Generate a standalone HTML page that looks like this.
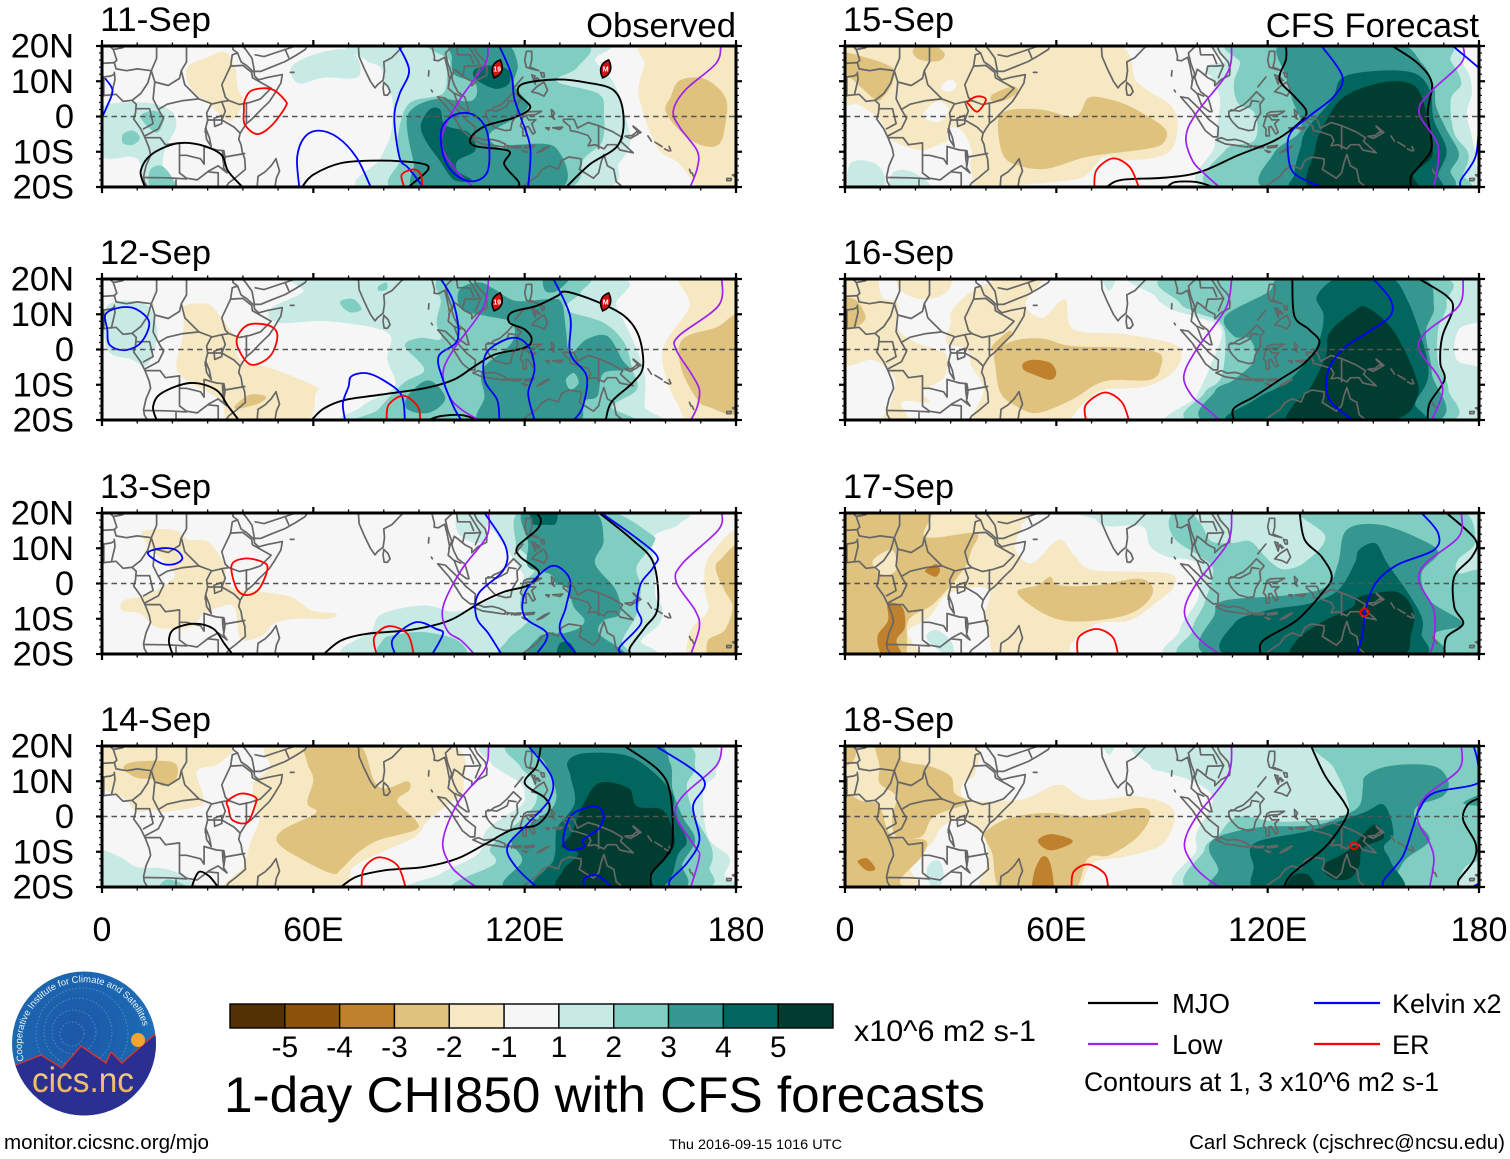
<!DOCTYPE html>
<html lang="en">
<head>
<meta charset="utf-8">
<title>1-day CHI850 with CFS forecasts</title>
<style>
html,body{margin:0;padding:0;background:#fff;width:1510px;height:1159px;overflow:hidden}
svg{display:block;font-family:"Liberation Sans",sans-serif}
</style>
</head>
<body>
<svg id="chart" xmlns="http://www.w3.org/2000/svg" width="1510" height="1159" viewBox="0 0 1510 1159">
  <rect width="1510" height="1159" fill="#fff"/>
  <g id="panels"></g>
  <g id="colorbar"></g>
  <text x="854" y="1041" font-size="30" textLength="182" lengthAdjust="spacingAndGlyphs">x10^6 m2 s-1</text>
  <text x="224" y="1112" font-size="50" textLength="761" lengthAdjust="spacingAndGlyphs">1-day CHI850 with CFS forecasts</text>

  <g>
    <line x1="1088" y1="1003" x2="1158" y2="1003" stroke="#000" stroke-width="2.2"/>
    <text x="1172" y="1013" font-size="27.5">MJO</text>
    <line x1="1314" y1="1003" x2="1380" y2="1003" stroke="#0000ff" stroke-width="2.2"/>
    <text x="1392" y="1013" font-size="27">Kelvin x2</text>
    <line x1="1088" y1="1044" x2="1158" y2="1044" stroke="#a020f0" stroke-width="2.2"/>
    <text x="1172" y="1054" font-size="27.5">Low</text>
    <line x1="1314" y1="1044" x2="1380" y2="1044" stroke="#ff0000" stroke-width="2.2"/>
    <text x="1392" y="1054" font-size="27">ER</text>
    <text x="1084" y="1091" font-size="26.4" textLength="355" lengthAdjust="spacingAndGlyphs">Contours at 1, 3 x10^6 m2 s-1</text>
  </g>

  <text x="4" y="1149" font-size="20.6" textLength="205" lengthAdjust="spacingAndGlyphs">monitor.cicsnc.org/mjo</text>
  <text x="669" y="1149" font-size="14" textLength="173" lengthAdjust="spacingAndGlyphs">Thu 2016-09-15 1016 UTC</text>
  <text x="1505" y="1149" font-size="20.5" text-anchor="end">Carl Schreck (cjschrec@ncsu.edu)</text>

  <g>
    <defs>
      <radialGradient id="logoSky" cx="45%" cy="42%" r="62%">
        <stop offset="0" stop-color="#1c57a6"/><stop offset="0.65" stop-color="#1c66b0"/><stop offset="1" stop-color="#2278bc"/>
      </radialGradient>
      <linearGradient id="logoText" x1="0" y1="0" x2="0" y2="1">
        <stop offset="0" stop-color="#f6dc9a"/><stop offset="1" stop-color="#eda64a"/>
      </linearGradient>
      <clipPath id="logoClip"><circle cx="84" cy="1043.5" r="72"/></clipPath>
      <path id="logoArc" d="M 24 1060.7 A 62 62 0 1 1 145 1034.5"/>
    </defs>
    <circle cx="84" cy="1043.5" r="72" fill="url(#logoSky)"/>
    <g clip-path="url(#logoClip)" fill="none" stroke="#6fa9d8" stroke-dasharray="1.5 2" stroke-opacity=".6">
      <circle cx="72" cy="1034" r="12"/><circle cx="74" cy="1032" r="22"/><circle cx="78" cy="1032" r="34"/><circle cx="82" cy="1034" r="46"/>
    </g>
    <path clip-path="url(#logoClip)" d="M10 1068 L16 1065 L41 1055 L62 1068 L81 1046 L106 1063 L111 1052 L122 1063 L154 1035 L160 1035 L160 1120 L10 1120Z" fill="#2b2f92" stroke="#d8352a" stroke-width="1.4"/>
    <circle cx="138" cy="1040" r="7" fill="#f0a62f"/>
    <text font-size="9.4" fill="#eaf3fb"><textPath href="#logoArc">Cooperative Institute for Climate and Satellites</textPath></text>
    <text x="32" y="1092" font-size="35" fill="url(#logoText)" textLength="102" lengthAdjust="spacingAndGlyphs">cics.nc</text>
  </g>
</svg>

<script>
// ---- Axis values ----
const xTickValues = [0, 60, 120, 180];
const xTickLabels = ['0', '60E', '120E', '180'];
const xMinorTicks = [10,20,30,40,50,70,80,90,100,110,130,140,150,160,170];
const yTickValues = [20, 10, 0, -10, -20];
const yTickLabels = ['20N', '10N', '0', '10S', '20S'];
const yMinorTicks = [18,16,14,12,8,6,4,2,-2,-4,-6,-8,-12,-14,-16,-18];
const cbarLabels = ['-5','-4','-3','-2','-1','1','2','3','4','5'];
const cbarLevels = [-5,-4,-3,-2,-1,0,1,2,3,4,5];
const levelColors = {'-5':'#543005','-4':'#8c510a','-3':'#bf812d','-2':'#dfc27d','-1':'#f6e8c3','0':'#f6f6f6','1':'#c7eae5','2':'#80cdc1','3':'#35978f','4':'#01665e','5':'#003c30'};

// ---- Geography: lon,lat pairs ----
const coastlines = [
 [37.2,21,37.2,19,38.5,18,39.5,15.5,41,14.5,43.2,12.5,43.3,11.5,44.5,10.4,47,11.1,51.2,11.9,50.8,9.5,49,6.5,47.5,4.2,45,1.8,42.5,-.8,41,-2,40,-3.5,39.2,-4.8,38.8,-6.5,39.5,-8,39.8,-10,40.5,-12,40.7,-15,38,-17.3,36,-18.8,34.8,-20.5],
 [-1,5.6,1,6,4,6.3,6,4.3,8.5,4.6,9.7,3.5,9.5,1,9,-.7,11,-3.5,12.2,-6,13.4,-9,13.8,-11,12.5,-14,11.8,-17,12,-18.5,13.2,-20.5],
 [39,21,40.8,19,42.6,16.5,43.3,12.8,45,12.8,48,14,52,15.6,55,17.3,57.7,19,58.6,20.6],
 [49.4,-12,50.4,-15.5,49.5,-17.5,49,-20.5],[44,-20.5,44.3,-17,46.3,-15.7,48,-14,49.4,-12],
 [72.8,21,72.8,20,73,17,74.5,13.5,76.2,10,77.5,8.1,78.2,9,79.8,10.3,80.2,13,80,15.5,82.3,16.7,85,19.5,86.5,20.5],
 [80,9.7,81.2,8.5,81.8,7,81,6,80.1,6.1,79.8,8,80,9.7],
 [93.5,20.5,94.4,17,94.3,16,95.5,15.8,97.3,16.8,98,14,98.7,10.5,98.3,8,100,6.5,101.3,3,103.5,1.4,104.2,1.4,103.5,4,103,5.5,101,7,99.9,9.2,99.3,11,100,13.4,101,12.7,103,11,105,10,105,8.7,106.7,10.4,109.2,11.7,109.3,13.5,108.8,15.5,106.5,18,105.8,19.5,106.5,20.5],
 [95.3,5.6,97.5,5.2,100.3,2.5,103.5,-1,106,-3,105.8,-5.8,104.5,-5.8,102.3,-4,100.4,-1,98.7,1.7,95.3,5.6],
 [105.3,-6.6,106.8,-6,108.5,-6.7,110.8,-6.5,112.7,-7,114.5,-7.8,114.4,-8.7,111,-8.2,108,-7.8,105.3,-6.6],
 [115,-8.2,115.7,-8.4,115,-8.8,115,-8.2],[116.1,-8.4,116.7,-8.4,116.3,-8.9,116.1,-8.4],[117,-8.5,119,-8.3,118.8,-8.8,117,-8.9,117,-8.5],[119.8,-8.5,122.8,-8.2,122.5,-8.7,120,-8.9,119.8,-8.5],[119.3,-9.6,120.8,-10,120.2,-10.2,119.3,-9.6],[123.5,-10.3,125.5,-9,127,-8.4,125,-9.8,123.5,-10.3],
 [109,1.5,110.3,1.7,111.3,2.5,113,3.2,115,5,116.8,7,117.7,6.2,119,5,117.8,3.5,118,1,116.5,-1.5,116,-3.8,114.5,-4,111.7,-3.2,110,-1.5,109,0,109,1.5],
 [119.8,.8,120.8,1.3,124.8,1.5,123,.5,120.3,.3,121.2,-1,123.2,-.9,122,-2,123,-4.5,122.3,-5,121,-2.8,120.3,-3,120.5,-5.5,119.5,-5.5,119.5,-3.5,118.8,-2.7,119.8,.8],
 [120.5,18.5,122,18.5,122,16,121.5,14,124,13,122,13.5,120.5,14,120,16,120.5,18.5],
 [122,7,123.5,8.5,125.5,9.8,126.5,7.5,125.5,5.8,124,6.5,122,7],
 [124.5,12.5,125.5,12.3,125.6,11.2,125,11.2,124.5,12.5],[122,11.8,123,11.5,122.5,10.5,122,11.8],[122.5,10.5,123.3,10.8,123,9.2,122.5,10.5],[123.5,11,124,10,124.4,10.2,123.5,11],[117.2,8.4,119.5,11.2],
 [127.6,2,128.5,1,128,0,128.5,-.8,127.8,-.2,127.6,2],[126,-3.2,127,-3.2,126.8,-3.8,126,-3.2],[128,-3.2,130.8,-3,130,-3.7,128,-3.2],
 [131,-.8,134,-.8,135,-3.3,138,-1.7,141,-2.6,145,-4.3,147.8,-6,147.2,-7,150.8,-10.3,147,-9.5,146,-8,143.5,-8,142.5,-9.2,140,-8,138,-8.3,138.8,-6.8,138,-5.4,135,-4.4,133,-4,132.8,-2.8,131,-1.3,131,-.8],
 [141,-2.6,141,-9.1],
 [148.5,-5.6,150.5,-5.4,152,-4.2,152.2,-5,150,-6.2,148.5,-5.6],[150.8,-2.7,153,-4.5,152.7,-4.7,150.8,-2.9],
 [155,-5.5,156,-7],[157,-7.3,159,-8.5],[159.7,-9.2,161,-9.8],[161,-8.5,161.5,-9.7],[166.8,-15,167.2,-16],[167.5,-16,168,-17],
 [177.4,-17.6,178.7,-17.6,178.5,-18.2,177.4,-18.2,177.4,-17.6],[179,-16.6,180,-16.4,179.5,-16.9,179,-16.6],
 [118.5,-20.5,122,-18,123.5,-17,125,-15,127,-14,129.5,-14.9,130.5,-12.5,132.5,-11.5,136,-12,136,-13.5,135.5,-15,139.5,-17.5,141,-16,141.7,-13,142.5,-10.8,143.5,-14,145.3,-15,146,-18.5,148.5,-20.5],
 [53.5,12.5,54.5,12.5],[92.8,13,92.7,11.5],[93.5,7.5,93.8,7],
 [-1,15,3.5,15.3,4,13.5,7,13,10,13.5,14,13,15.5,16.5,15.5,21],[1.2,21,3.2,19,4.2,16,3.5,15.3],[3.2,19,5.8,19.5,8,21],
 [24,21,24,15.5,22.5,13,23.5,9,27.5,5,31,3.7],[14,13,15,9.8,18.8,8.8,22,10.8,22.5,13],[14,13,13,9.5,11,6.5,8.7,4.7],[2.7,6.3,3.7,10.5,3.5,12.5],[-1,11,2.5,11.5,3.5,12],[.5,6,.5,11],
 [15,9.8,14.5,5,16,2,18.5,3.5,23,4.5,27.5,5],[9.8,2.2,13.5,2.2,14.5,-2,11.8,-3.5],[16,2,17.5,-.5,16,-3.5,12.2,-5.5],
 [12.2,-6,16.5,-6,18,-8,22,-7.5,22,-11,24,-11,28,-12,29,-13.5,29,-8.5],[22,-11,22,-16,24,-17.5,27,-18,30,-15.7,33,-16,33,-20.5],[11.8,-17.3,18.5,-17.4,24,-17.7],[21,-18,21,-21],
 [29,-8.5,32.5,-9.5,34.6,-9.7,34.9,-11.5,40.5,-10.5],[34.9,-11.5,34.5,-14.5,35.5,-16,33,-14,30.2,-15.5],[30,-1,34,-1,37.5,-3,39.2,-4.7],[30,-1,29.5,-3,29.3,-4.5],[30,-1,29.7,1,31,3.5,34,4.2],[34,-1,35,1.5,34,4.2,36,4.5],
 [36.5,14.3,40,14.5,42.5,12.5,42.7,11,48,8,45,5,42,4,39,3.4,36,4.5,35,5.5,34,9,36.5,14.3],[36.5,14.3,37,17.5,38.5,18],[41,-1.6,41,3.9],[43.5,17.5,46,17,52,19,55,20],[52,19,53,16.7],
 [31.8,-.5,34,.3,34,-2,32,-2.8,31.8,-.5],[29.3,-3.5,29.7,-6.5,31,-8.5,30.5,-6,29.5,-3.5],[34.2,-9.7,34.9,-12,34.6,-14,34.3,-12,34.2,-9.7],
 [98.5,10,99.3,12,98.2,15,97.5,18,100,20.4],[100.5,21,101,17.5,104.5,17.5,105.5,15],[102.5,12,103,14.3,105.5,14.3,107.5,14.5,106,11],[107.5,14.5,105,18.5,104,20],[100.2,6.5,101.8,5.8],[109.6,1.9,112,1.5,115,3,115.5,4.5,117.5,4.2]
];

// ---- 11-Sep ----
const shade11 = [
 [-1,[154,21,182,21,182,-22,171.5,-22,164,-13.5,157.5,-8.6,152.7,4.5,152.7,10,154,15]],
 [-2,[164,10.2,171,10.7,177,5.4,177,-2.2,175,-8,169.7,-8,164,-4,160,1.6,161.4,5.4]],
 [-1,[24.3,14,30.4,17,35,18.3,37.8,14,38.5,8.3,40,4.5,38.5,.7,35.8,-1.2,30.4,3.5,25,8.3]],
 [1,[-1,2,11.5,4,19.6,1.6,21,-3,18,-9,17.5,-15,22,-21,13,-21,10,-12,2,-12,-1,-10]],
 [1,[54.7,15,61.5,18,69.6,19,73,15.5,72.3,11,63,11,56,9.4,53.6,12.5]],
 [1,[73.6,21,75,16,79,14,80.5,9,82.5,4.5,82,-5,79,-12,75.7,-21,139,-21,147,-13,150,-7,148,2,145,10,140,16,140,21]],
 [2,[6,-5,8.8,-4,10.8,-6,8.8,-8,6,-7.6]],
 [2,[11.5,.7,14.9,1.6,17.6,-.3,15.5,-4.6,11.5,-1.2]],
 [2,[13.5,-15.5,16.9,-14,20.3,-17.9,21,-21,14.2,-21]],
 [2,[94,21,135.8,21,135,14,129,10,141,6.4,142.5,.7,142,-7,137,-11.8,130,-21,84.5,-21,84.5,-12.5,83.8,-7,87,3.5,96.6,6.4,98,12,98.6,16]],
 [3,[99.3,21,114,21,118,15,117,9,121,3.5,118,0,110,-5,113,-9,118,-8,129,-9,129,-21,91,-21,88.5,-13,86.5,-2,88.5,2.5,95.3,5,105,4.5,106,9.3,100,12,99.3,17]],
 [4,[106,13.5,111.5,14.5,115.5,13,115.5,9.3,111.5,7.9,106,10.7]],
 [4,[93,2,96,2,97.5,-2.5,104,-4.5,106,-9.5,101,-12.5,101,-15.5,105,-18,100,-18,95.5,-12,92,-7,90.5,-2.5]]
];
const mjo11 = [
 [12.2,-20,11,-15.5,14,-10.8,21,-7.7,27.7,-8,33.8,-10.8,35.8,-15.5,39.9,-20],
 [56.8,-20,60,-16.5,68,-13.2,79,-12.5,90,-13.2,92.6,-15,87,-20],
 [131.8,-20,138.5,-13.6,146.6,-8,148,.7,145.3,7.4,137.2,9.7,129,10.5,119.6,9.3,118.2,6.4,121.6,2.6,117,-.3,108.8,-2.7,104.7,-6,106,-8.4,115.5,-9.8,114.2,-13.6,118.2,-18.4,118.2,-20]
];
const kelvin11 = [
 [1,10.7,3,7.3,1.3,2.6,.2,.2],
 [56,-20,55.4,-11.7,57.4,-6,61.5,-4,67,-6,72.3,-11.7,76.3,-20],
 [84.2,20,87.2,13,84.5,6.4,83,-.3,84.5,-11.7,87,-14.6,91.2,-20],
 [96.6,-3,100.7,.7,106,.2,109.5,-5,109.5,-15.5,104.7,-18.4,99.3,-15.5,96.6,-9.8,96.6,-3],
 [112.8,20,116.2,12,117,5.4,118.9,-.3,121.6,-8.9,121,-20]
];
const low11 = [
 [109.5,20,108.8,15,102,5.4,97.3,-3,96.6,-8.9,100.7,-15.5,105.4,-20],
 [175.7,20,174.3,15,165.5,7.4,162.2,1.6,164,-3,169,-9.8,169,-14.6,167,-20]
];
const er11 = [
 [40.5,4.5,42.6,7.4,48,7.8,52,4.5,52,2.6,48,-2.7,44,-5,40.5,-2.2,40.3,1.6,40.5,4.5],
 [85.8,-20,85.1,-16.5,88.5,-15,90.5,-16.5,91,-20]
];
const stormLons = [112.2, 143];
const stormLats = [13.5, 13.5];
const stormLabels = ['19', 'M'];

// ---- 12-Sep ----
const shade12 = [
 [-1,[164.3,21,182,21,182,-22,168,-22,163.7,-16,160,-7.6,159.5,1,166,10.5,166.6,14.3]],
 [-2,[182,9,174.3,6.2,164.8,2.9,164.3,-4.8,168.4,-13.3,172,-16.2,182,-16.7]],
 [-1,[23.4,12.4,30,12.9,33.5,9.5,35.9,6.2,38.2,2.9,38.2,-1,40.6,-3.8,47.7,-5.2,60.7,-10.5,60.7,-12.4,57.2,-21,37,-21,33.5,-14.3,21.7,-6.7,22.8,2.9,23.4,9.5]],
 [-2,[37.6,-16.2,41.8,-12.9,46.5,-13.3,44.7,-15.2,39.4,-16.7]],
 [1,[1.5,12.4,12.2,12.9,15.7,5.7,14.5,-1,12.2,-4.8,8.6,-2.9,1.5,0]],
 [1,[47.7,11.4,57,16.2,60.7,21,143,21,146,12.4,150.6,2.9,154,-6.7,154,-16,153,-21,73.7,-21,73.7,-16.2,83,-10.5,81,-2.9,81,4.8,64,8,50,7.6]],
 [2,[67.8,13.8,71.4,14.3,73.7,11.4,70.8,10.5,68.4,11.9]],
 [2,[78.5,18,80.8,19,80.8,17,78.5,16.7]],
 [2,[98,21,135.9,21,135.9,16.2,131.7,11.4,142.4,7.6,148.3,1.9,150.6,-5.7,151.8,-11.4,144.7,-16.2,147,-21,76,-21,78.5,-17,85.6,-9.5,91.5,-5.7,86,1,90.3,3.3,96.2,2.9,95,7.6,96.2,13.3]],
 [3,[101.5,17,107,19,111.6,17,117.5,13.8,127,14.3,130.5,13.3,131.7,5.7,132.9,-1,137.6,2.9,143.5,3.8,147.7,-2.9,149.5,-5.7,142.4,-6.7,140.6,-13.3,136.5,-14.8,134,-21,108,-21,108.6,-13.3,108,-5.7,116.3,1.9,116.3,7.6,109.2,9.5,102,11.4]],
 [3,[86.7,-13.3,91.5,-9,95,-10,97.4,-14.3,92.7,-18,86.7,-17]],
 [3,[125.8,21,133,21,129.3,16.7,125.8,16.7]],
 [2,[131.7,-8.6,134,-6.7,135.3,-9.5,133,-11.4]]
];
const mjo12 = [
 [15.5,-20,14.5,-16.2,16.9,-12.4,25,-9.5,32.3,-11.4,35.9,-16.2,38.8,-20],
 [59.5,-20,63,-16.7,69,-14.3,78.5,-12.9,91.5,-11,99.8,-8.6,105.7,-4.8,111.6,-1.4,120,.5,122,2.9,120,5.7,115.7,7.6,116.3,10.5,123.4,12.4,129.3,15.2,131.7,16.4,140,13.8,148.3,9.5,152.4,3.8,153.6,-4.8,150.6,-9.5,144.7,-14.8,143,-20],
 [92.7,-20,96.2,-18.9,102,-18.6,106.9,-20]
];
const kelvin12 = [
 [1,10,5,11.9,9.8,11.4,13.4,7.6,11,1.9,6.3,-.2,2.1,1.4,1.5,5.7,1,10],
 [69,-20,68.4,-15.2,70,-10.5,70.8,-7.6,75,-6.7,79.7,-8.6,85,-12.9,86,-20],
 [96.2,20,99.8,13.3,101,2.9,95.6,-1.9,96.8,-8.6,99.8,-16.2,102,-20],
 [112.8,-20,112.2,-14.3,108.6,-8.6,109.2,-.9,116.3,3.3,121,1,122.8,-5.7,121,-12.4,122.8,-20],
 [128.2,20,132.9,9.5,132.9,-1,137.6,-7.6,136.5,-16.2,134,-20]
];
const low12 = [
 [109.8,20,108,11.4,99.8,0,96.8,-6.7,98.6,-13.3,102,-17,107,-20],
 [176,20,175,12.4,163.7,3.8,163,0,167.2,-6.7,169.6,-11.4,169,-16.2,167.2,-20]
];
const er12 = [
 [38.5,3.8,41.8,7.1,47.7,6.7,49.8,3.8,47.7,-1.9,42.4,-4.3,38.8,0,38.5,3.8],
 [80.8,-20,81.4,-15.7,85.6,-13.1,89.7,-16.2,90.3,-20]
];

// ---- 13-Sep ----
const shade13 = [
 [-1,[11.6,14.8,20.5,15.2,24.6,12.4,30,11.9,34.7,5.7,35.3,0,39.4,-1.9,45.3,-2.4,53.6,-3.8,59.5,-7.6,66.4,-8.6,64.3,-10,54.8,-10,48.9,-11.4,45.3,-14.8,39.4,-15.7,37.6,-6.7,33.5,-6.7,28.8,-8.6,25.2,-12.4,15.7,-12.4,11,-8.6,5.7,-7.6,6.3,-4.8,13.4,-2.9,20.5,1.9,18,5.7,13.4,10.5]],
 [-1,[182,13.8,172.4,7.6,171,-1,172,-7.6,167.2,-13.3,167.2,-22,182,-22]],
 [-2,[182,9.5,175.5,6.7,174.3,3.8,176.7,-1.9,179,-6.7,176.7,-13.3,172,-16.2,173,-22,182,-22]],
 [1,[109.8,21,162.5,21,163.7,16.7,156.6,13.3,157,4.8,157.2,-3.8,159,-6.7,158.3,-11.4,153,-16.2,151.8,-21,72.5,-21,76.7,-13.3,79.6,-8.6,91.5,-6.2,99.8,-8,108,-5.7,119.3,.5,117.5,5.7,115.1,9.5,112.2,13.8]],
 [1,[100.4,17,102,21,108,21,109.2,14.3,106.9,11.4,102,13.3]],
 [2,[119.3,21,117.5,11.4,119,9.5,123.4,4.8,120,0,118.7,-6.7,121,-10.5,115,-16.2,115,-21,147.7,-21,147.7,-16.2,151.8,-8.6,153,-1,151.8,4.8,156.6,11.4,155.4,14.3,142.4,21]],
 [2,[79.6,-16.2,83,-14.6,91.5,-13.8,101,-16.2,102,-21,79.6,-21]],
 [3,[120,21,138.8,21,142.4,12.4,140,5.7,145.9,-1.9,147,-8.6,142.4,-10.5,141.2,-14.3,148.3,-21,122.2,-21,124,-15.2,128.2,-13.3,128.2,-5.7,128.2,1.9,121,4.8,121,11.4]],
 [2,[126.9,-1.9,131.7,-1,134,-6.7,137,-10.5,134,-13.3,127.6,-13.3]],
 [4,[122.2,21,128.8,21,128.8,17,125.8,16.7,122.2,17]],
 [4,[129.4,-21,130,-17,133,-17,134.7,-21]]
];
const mjo13 = [
 [20,-20,19,-16.2,20.5,-12.9,26.4,-11.4,31.7,-12.9,34.7,-17,37,-20],
 [63,-20,67.8,-16.2,75,-14.3,88,-13.1,98.6,-10.5,106.9,-5.7,114,-2.4,121,-.5,124,3.3,118.7,7.6,118,10.5,123.4,15.2,124.6,18,123.4,20],
 [141.2,20,150.6,12.4,156.6,5.7,157.8,-6.7,154.2,-12.4,150,-18,150,-20]
];
const kelvin13 = [
 [13,8.6,16.9,10,21,9.5,22.8,7.1,20.5,5.5,16.9,5.7,13,8.6],
 [83.2,-20,82.6,-15.7,89,-11,94.9,-12.9,96.8,-14.3,93.8,-20],
 [108.6,20,114.6,10.5,114,3.8,106.9,-2.9,106.3,-9.5,109.8,-14.3,113.4,-20],
 [123.4,-20,126.4,-14.3,120,-9.5,120,-2.9,124.6,2.9,128.8,5,132.9,.95,131.7,-6.7,130,-13.3,134.7,-20],
 [141.8,20,156.6,9,156.6,4.8,153,0,151.8,-6.7,153,-11.4,147,-18,147.7,-20]
];
const low13 = [
 [109.8,20,109.2,13.3,102,3.8,96.8,-6.7,98,-13.3,102,-16.2,105.7,-20],
 [176,20,175,15.2,164.8,5.7,163,.5,168.4,-7.6,169.6,-12.4,167.2,-20]
];
const er13 = [
 [36.8,5.2,40.6,7.1,45.3,6.2,47,4.3,44.7,-1.4,41.2,-3.3,38.2,-1.4,36.8,5.2],
 [77.9,-20,77.3,-15.2,81.4,-12.1,86.7,-14.3,88.5,-20]
];

// ---- 14-Sep ----
const shade14 = [
 [-1,[-2,22,36,22,33.5,15.2,27,12.9,28.8,5.7,27.6,2.9,18,1.4,14.6,1.9,9.8,1.4,6.3,5.2,.4,7.6,-2,8.6]],
 [-1,[43,9.5,47.7,13.8,50,21,97.4,21,102.7,8.6,98.6,3.8,92.7,-1,89,-5.7,80.8,-9.5,71.4,-14.3,66.6,-21,35.9,-21,40,-14.3,42.4,-6.7,44.7,-1,43.5,2.9]],
 [-2,[58.3,21,72.5,21,77.3,10,80.8,8,86.7,10,87.3,7.6,83.8,4.3,89,-1,89,-3.8,78.5,-6.7,73.7,-9.5,71.4,-11.4,67.8,-15,65.4,-16.2,57.2,-12.4,50,-7.6,51.3,-3.8,60.7,1,58.3,3.8,60,10.5,58.3,15.2]],
 [-2,[6.9,14.8,11,15.7,20.5,15.2,21,10.5,17.5,8.6,14.6,10.5,9.8,11,6.3,13.3]],
 [1,[-2,-10,5,-11.4,9.8,-14.3,18,-14.8,25.2,-18,25.8,-22,-2,-22]],
 [2,[16.3,-21,18,-18,21.7,-18.6,25.2,-21]],
 [1,[112.2,21,169.6,21,174.3,12.4,170.8,7.6,172,-5.7,178,-11.4,176.7,-16.2,173,-21,91.5,-21,96.2,-16.2,106.9,-10.5,109.2,-3.8,118.7,2.9,120,5.7,118.7,9.5,110.4,15.2]],
 [2,[117.5,21,162.5,21,168.4,14.3,166,8.6,168.4,0,173,-8.6,172.6,-14.3,167.2,-21,102,-21,111.6,-13.3,110.4,-8.6,120,0,123.4,4.8,122.2,10.5,118.7,14.3]],
 [3,[123.4,21,155.4,21,161.3,15.2,162,7.6,164.8,0,168.4,-6.7,164.8,-13.3,162.5,-21,116.3,-21,119.3,-12.4,116.3,-6.7,123.4,-1,128.2,2.9,128.8,7.6,125.8,15.2]],
 [4,[132.3,15.7,137.6,18,150.6,16.7,161.3,7.6,162.5,1,166,-6.7,163.7,-10.5,156.6,-21,123.4,-21,128.2,-12.4,128.8,-5.7,129.4,-2.9,134.2,3.8,133,11.4]],
 [5,[141.2,9.5,149.5,8,151.8,2.9,159,1.9,162,-3.8,162,-9.5,155.4,-17,155.4,-21,130.5,-21,131,-15.2,135.3,-10.5,130.5,-8.6,133.3,-4.8,136.4,2.9]]
];
const mjo14 = [
 [25.8,-20,25.8,-19,27.6,-15.7,30.5,-17,32.9,-20],
 [67.8,-20,72.5,-17,80.8,-15.2,91.5,-14.3,101,-11.9,109.2,-7.6,116.3,-3.8,123.4,-2.4,127,1.9,125.8,5.2,120,9.5,123.4,14.3,124.6,20],
 [148.3,20,157.8,13.3,161.3,6.7,162,-6.7,160.1,-11.4,156,-16.2,156,-20]
];
const kelvin14 = [
 [121,20,127.6,11.4,127,4.8,121,-1.9,115.1,-8.6,117.5,-14.3,123.4,-20],
 [131.7,-2.9,134,1,140,2.9,142.4,.5,141.2,-3.3,136.5,-6.7,137,-8.6,132.9,-9.5,131,-7.6,131.7,-2.9],
 [137,-20,137,-17.6,140.6,-16.7,144.7,-20],
 [157.2,20,170.8,10.5,167.8,2.9,169.6,-6.7,166,-13.3,161.3,-18,161.3,-20]
];
const low14 = [
 [109.8,20,108.6,13.3,101,3.8,96.8,-6.7,98.6,-13.3,102,-17,106.3,-20],
 [176,20,174.3,14.3,164.8,5.7,163,0,168.4,-8.6,169.6,-11.4,167.2,-20]
];
const er14 = [
 [35.6,4.3,39.4,6.5,43.5,5.5,43.5,3.3,41.2,-1.7,37,-1,35.9,2.4,35.6,4.3],
 [73.7,-20,74.3,-14.8,78.5,-11.6,83.8,-13.8,86.2,-20]
];

// ---- 15-Sep ----
const shade15 = [
 [-1,[-2,22,71.4,22,83.2,9.5,92.7,2.9,94.4,-3.8,91.5,-10.5,80.8,-12.4,73.7,-11.4,69,-16.2,64.3,-18,45.3,-20,37.6,-22,36,-16,34,-8,33.5,-6.7,27.6,-7.6,21.7,-9.5,13.4,-6.7,9.8,-1,3.9,3.3,-2,4.8]],
 [0,[22.2,1,26.4,4.3,29.4,1.9,27,-1.4,23.4,-1]],
 [0,[27.6,9,30,10.5,31.7,9,30,7.1,27.6,7.6]],
 [0,[29.4,-3.8,33,-3.8,35.9,-9.5,35,-14.3,32.3,-18,29.4,-10.5]],
 [-2,[43.5,-1,47,1.9,56,1.9,65.4,0,69,5.2,73.7,5.2,80.8,2.9,90.3,-2.9,90.9,-6.7,86.7,-9,69,-11.4,57.2,-14.8,48.9,-13.8,44.7,-10.5]],
 [-2,[41.8,6.2,47.7,8.6,48.9,6.7,44.7,4.3,41.8,4.3]],
 [-2,[19.3,19,23.4,21,28.2,18,26.4,15.7,21,16.2]],
 [-2,[-2,18,5,17,13.4,13.8,13.4,9.5,11,5.7,8.6,4.8,1.5,11,-2,12.4]],
 [1,[1.5,-13.3,7.5,-12.9,11,-16.2,10.4,-21,1.5,-21]],
 [1,[13.4,-16.2,17.5,-15.2,22.8,-18,24,-21,13.4,-21]],
 [1,[109,21,167.2,21,176,14,178,7,176.5,1,178,-6,179,-13,176,-21,104.5,-21,105,-8,106.5,5,104,11,108,16]],
 [1,[103,14.5,107,15,106.5,11.7,103,12]],
 [2,[111.6,21,167.2,21,172,15.7,175,9.5,172,4.8,173,-4.8,177,-10.5,175.5,-16.2,172,-21,106.3,-21,108,-9.5,116.3,-6.7,116.3,1,111.6,3.8,110.4,9.5,112.2,15.2]],
 [3,[124.6,21,155.4,21,163.7,15.2,167.2,8.6,167.8,2.9,170.8,-3.8,174.3,-10.5,172,-15.2,169,-21,121,-21,121.7,-10.5,129.4,-3.8,127,4.8,125.2,11.4]],
 [4,[150.6,12.9,161.3,12.4,166,7.6,167.2,-1,170.8,-9.5,168.4,-16.2,166.6,-21,129.4,-21,127.6,-16.2,129.4,-8.6,131,-3.8,138.2,4.8,141.2,11]],
 [5,[151.8,9.5,160,9.5,163.7,5.7,166,-4.8,166.6,-11.4,161.3,-16.2,160.7,-21,132.9,-21,133.5,-9.5,135.3,-3.8,141.2,5.2]]
];
const mjo15 = [
 [74.3,-20,78.5,-18,91.5,-17.3,101,-15.7,111.6,-11,122.2,-6.7,128.8,-1.9,131,1.4,127.6,5.7,123.4,10.5,125.2,16.2,125.2,20],
 [91.5,-20,93.8,-18.6,99.8,-18.6,104.5,-20],
 [155.4,20,162.5,15.2,166.6,9.5,165.4,1,166.6,-8.6,163.7,-13.3,160.7,-17,160.7,-20]
];
const kelvin15 = [
 [135.3,20,141.2,11.4,138.8,5.7,131.7,0,126.4,-4.8,125.8,-10.5,127.6,-16.2,135.3,-20],
 [172.6,20,180,13.8],
 [180,-2,179,-11.4,174.9,-18,174.9,-20]
];
const low15 = [
 [109.8,20,108.6,12.4,99.8,1,96.8,-5.7,98.6,-12.4,102,-16.2,106.3,-20],
 [175.5,20,175,15.2,166,6.7,163,1,168.4,-8.6,167.2,-20]
];
const er15 = [
 [34.9,4.3,37.6,5.7,40,4.8,37.6,1.4,35.3,3.3,34.9,4.3],
 [70.8,-20,71.4,-15.2,76,-11.9,80.8,-14.3,83.4,-20]
];

// ---- 16-Sep ----
const shade16 = [
 [-1,[32.3,13.3,37,17,48.9,22,57.8,22,51.3,13.3,56,9,62.5,14.3,64.9,5.7,79.6,4.3,94.4,1,93.8,-5.7,85.6,-10.5,73.7,-11.4,67.8,-15.2,59.5,-22,37,-22,39.4,-11.4,35.9,-4.8,34.7,0,28.8,1.9,30,7.6,30,10.5]],
 [-1,[-2,22,8,22,10.5,15,15,13,15,6,20,2,26,0,29,-2,28,-8,22,-12,24,-15,16,-15,19,-22,10,-22,13,-15,14,-8,8,-3,-2,-3]],
 [-1,[15.7,22,29.3,22,28.8,16.2,21.7,14.3,15.7,17]],
 [-2,[42.7,-1,47.7,2.4,56,3.1,64.3,1,79.6,.5,89,-1,89.7,-4.8,86.7,-8.6,73.7,-9,64.3,-14.3,54.8,-18,48.9,-16.2,44.2,-12.4,42.7,-4.8]],
 [-2,[41.8,1,46.5,5.2,47,3.8,43.5,-.5]],
 [-3,[50.7,-3.8,53.6,-2.9,58.3,-3.8,60,-6.7,58.3,-8.6,53.6,-7.1,50.7,-5.7]],
 [-2,[-2,13.8,2.7,14.3,5.7,10,5,7.6,1.5,6.2,-2,6.7]],
 [1,[72.5,22,77.3,22,75,16.7]],
 [1,[86.8,22,182,22,182,9.5,174.3,5.7,173.7,-2.9,182,-6.7,182,-22,96.2,-22,99.8,-13.3,103.3,-5.7,106.9,5.7,98.6,9.5,92.7,11.4,88,15.2]],
 [2,[93.8,21,165.5,21,170.8,13.3,168.4,5.7,168.4,-3.8,171.3,-11.4,168.4,-21,100.9,-21,102,-12.4,106.9,-7.6,107.5,6.2,99.8,10.5,95,13.3]],
 [3,[120,16.2,126.4,21,161.9,21,167.2,12.4,164.9,4.8,166.6,-6.7,166,-21,105,-21,105,-11.9,110.4,-8.6,116.3,-2.9,115,2.9,110.4,3.8,108,9.5]],
 [4,[134,15.2,141.2,21,154.2,21,160,13.3,164.9,-1,165.4,-8.6,161.9,-15.2,161.3,-21,110.4,-21,116.3,-14.3,123.4,-10.5,128.2,-6.7,134,1,135.9,9.5]],
 [5,[144.7,11,148.3,11.9,155.4,5.7,161.3,-5.7,162.5,-13.3,155.4,-20,127.6,-21,127,-16.2,131.7,-11.4,136.5,-1.9,137.6,4.8]]
];
const mjo16 = [
 [110.4,-20,110.4,-16.7,116.3,-13.3,123.4,-8.6,130.5,-3.8,134.7,1.9,131.7,5.7,127.6,9.5,127,20],
 [163,20,170.8,15.2,172.6,11.4,169.6,3.8,169,-3.8,170.2,-8.6,166,-15.2,165.4,-20]
];
const kelvin16 = [
 [150,20,154.8,14.3,154.8,9.5,148.3,4.8,141.2,0,137,-6.7,137.6,-14.3,144.2,-20]
];
const low16 = [
 [109.8,20,108,11.4,99.8,0,96.2,-7.6,98.6,-13.3,102,-16.2,106.3,-20],
 [175.5,20,174.3,12.4,164.8,4.8,163,0,168.4,-7.6,169.6,-12.4,166.6,-20]
];
const er16 = [
 [68.4,-20,68.4,-15.7,73.7,-12.2,78.5,-14.8,80.6,-20]
];

// ---- 17-Sep ----
const shade17 = [
 [-1,[-2,22,49.5,22,50,16.2,48.3,10,53,5.7,60.7,12.4,65.4,7.6,70.8,3.8,91.5,2.9,93.3,-1,88,-5.7,80.8,-10.5,71.4,-11.4,64.3,-17,62,-22,44.1,-22,40.6,-13.3,39.4,-9.5,41.2,-2.9,37.6,-1,28.8,-3.3,24,-9.5,18,-13.3,19.3,-17,21.7,-22,-2,-22]],
 [-2,[-2,22,23.4,22,22.8,13.3,37,14.3,35.9,9.5,33.5,3.8,25.2,-5.7,18,-10.5,16.3,-21,1.5,-21,-2,-13,-2,5.7]],
 [-1,[8,6.7,13.4,9.5,14.6,4.3,12.2,2.4,9.2,3.3]],
 [-3,[12.2,-5.7,16.3,-6.7,17,-12.4,14.6,-16.2,16.3,-21,11,-21,9.2,-15.2,12.2,-10.5]],
 [-3,[22.8,3.8,25.8,5.5,27,3.8,25.8,1.9,23.4,2.9]],
 [-2,[48.9,-2.4,54.8,-.5,58.3,1.9,60.7,-.5,71.4,-.5,83.2,1.4,87.3,-1,86.2,-4.8,80.8,-8.6,71.4,-10.5,62,-10.5,54.8,-7.6]],
 [1,[23.4,-14.3,26.4,-13.3,30.5,-17,30,-21,24,-16.7]],
 [1,[72,22,182,22,182,-22,97.4,-22,95,-13.3,100.4,-3.8,99.8,5.7,91.5,7.6,86.7,10.5,84.4,16.2,75,16.2,71.4,18]],
 [2,[129.4,22,171.4,22,179,12.4,174,6.7,174.3,2.9,182,2,182,-22,101,-22,98.6,-13.3,102,-5.7,104.5,3.8,101,7.6,93.8,12.4,92,18,96,22,101,17,104,12,110,11.5,115,12,119,8,121,6,124.6,4,130.5,6,136.4,13.3]],
 [3,[142.4,15.2,151.8,16.7,163.7,12.4,168.4,8.6,163.7,2.9,166,-4.8,175.5,-11.4,167.2,-14.3,166,-21,105,-21,105,-8.6,108,-4.8,125.8,-3.3,136.5,-1,140,5.7]],
 [4,[145.9,9.5,150.6,11.4,154,5.7,160,-2.9,163.7,-9.5,163.7,-14.3,161.3,-21,110.4,-21,110.4,-11.4,120,-7.6,131.7,-5.7,140,-1.9,144.7,5.7]],
 [5,[146,-3.8,156.6,-2.4,161.3,-7.6,160.7,-14.3,156.6,-21,128.8,-21,128.2,-16.2,135.3,-11,144,-6.7]]
];
const mjo17 = [
 [118,-20,118.7,-16.2,128.2,-10.5,135.3,-2.9,138.2,1.9,135.3,7.6,130.5,12.4,129.1,20],
 [170.8,20,179,12.4,178,7.6,173,1.9,173,-6.7,175.5,-11.4,170.8,-15.2,170.2,-20]
];
const kelvin17 = [
 [163.7,20,168.4,14.3,167.2,9.5,156.6,5.2,150.6,0,147.7,-7.6,147,-14.3,145.3,-20]
];
const low17 = [
 [109.8,20,108.6,11.4,99.8,0,96.4,-7.6,98.6,-13.3,102,-17,106.3,-20],
 [175,20,174.3,13.3,164.8,5.7,163,.5,167.2,-7.6,167.2,-16.2,166,-20]
];
const er17 = [
 [66,-20,66.4,-15.2,71.4,-12.9,76,-15.2,77.5,-20],
 [146.2,-8.2,147.5,-7.1,148.8,-8.2,147.5,-9.3,146.2,-8.2]
];

// ---- 18-Sep ----
const shade18 = [
 [-1,[-2,22,34.7,22,37,12.4,33.5,9.5,34.7,4.8,50,4.8,60.7,9,69,4.8,83.2,5.7,93.3,1.9,90.3,-7.6,79.6,-11.4,70.2,-13.3,63.7,-22,39.4,-22,40.6,-12.4,39.4,-5.7,33.5,-1,27.6,-2.9,24.6,-7.6,18,-13.3,21,-22,-2,-22]],
 [-2,[-2,4.8,5,4.3,9.8,2.9,13.4,-5.7,22.8,-6.7,21.7,-11.4,15.7,-18,17,-22,-2,-22]],
 [-2,[8.6,22,15.7,22,16,16,24,14.3,30,11.4,31.1,6.7,34.7,3.8,25.2,0,21.7,-5.7,14.6,-5.7,13.4,0,14.6,5.7,9.8,9.5,9.8,14.3]],
 [-2,[-2,22,3,22,2.5,16,-2,14]],
 [-3,[3.9,-12.4,6.3,-11.9,8.6,-14.8,6.3,-15.4,3.9,-13.3]],
 [-2,[40,-4.3,46.5,-.5,57.2,1,69,0,83.2,2.4,86.7,.5,83.2,-5.7,75,-11,69,-11.9,63.7,-22,45.3,-22,41.8,-10.5,40,-6.7]],
 [-3,[54.8,-6.7,58.3,-5,63.7,-6.2,64.3,-7.6,59.5,-9.5,56.6,-9]],
 [-3,[53.6,-16.2,56,-11.4,58.3,-13.3,59,-22,53.6,-22]],
 [1,[23.4,-14.3,26.4,-12.4,28,-16.2,26.4,-21,24,-19]],
 [1,[72.5,22,77,22,75,17.5]],
 [1,[86.8,14.3,89,22,182,22,182,-22,98.6,-22,99.8,-9.5,99.8,-4.8,104.5,4.8,99.8,9.5,91.5,12.4]],
 [2,[134.7,22,182,22,182,-22,102,-22,102,-9.5,105.7,-5.7,111.6,0,123.4,-1.5,141.2,0,142.4,5.7,138.8,13.8]],
 [1,[174.3,-18,176.7,-13.8,182,-13.3,182,-22,174.3,-22]],
 [3,[147.7,11.4,153,14,161.3,14.8,168.4,13.8,171.4,9.5,169.6,5.7,162.5,2.9,162,-1,166,-6.7,159,-12.4,154.8,-20,151.8,-22,106.3,-22,106,-15,103.5,-10,104,-7,108,-5,118,-3,133,-2.5,141,0,146,3,147,8]],
 [3,[175.5,3.8,182,6.7,182,3.3]],
 [4,[116.4,-7.5,133,-3.8,147,1,153,3.3,155.7,-4.7,153,-8.6,155,-13,156.7,-22,119,-22,116,-14]],
 [5,[135.7,-14,143,-9.5,150,-2.4,153,-6,147,-9,146,-14,143.4,-17.5,138.6,-17.7]],
 [5,[125.2,-22,127,-17,131.7,-16.7,133.5,-22]]
];
const mjo18 = [
 [124.6,-20,127,-16.2,136.4,-8.6,142.4,0,141.8,3.8,136.4,11.4,132.3,20],
 [180,5.2,176.7,3.3,175.5,-1,179,-7.6,178.5,-12.4,174.3,-18,174.3,-20]
];
const kelvin18 = [
 [178.5,20,179.7,15.2,179.7,9.5,167.2,6.7,163,1.9,161.3,-2.9,158.3,-11.4,153,-18,153,-20],
 [178,-20,180,-19]
];
const low18 = [
 [109.8,20,108.6,11.4,99.8,0,96.4,-7.6,98.6,-13.3,102,-17,106.3,-20],
 [175,20,174.3,13.3,164.8,5.7,162.5,-.5,166,-7.6,167.2,-12.4,166,-20]
];
const er18 = [
 [64.3,-20,64.9,-15.7,69,-13.6,73.7,-16.2,74.7,-20],
 [143.3,-8.3,144.5,-7.3,145.7,-8.3,144.5,-9.3,143.3,-8.3]
];

const panels = [
 {day:'11-Sep',col:0,row:0,shade:shade11,mjo:mjo11,kelvin:kelvin11,low:low11,er:er11,storms:true,tag:'Observed'},
 {day:'12-Sep',col:0,row:1,shade:shade12,mjo:mjo12,kelvin:kelvin12,low:low12,er:er12,storms:true},
 {day:'13-Sep',col:0,row:2,shade:shade13,mjo:mjo13,kelvin:kelvin13,low:low13,er:er13},
 {day:'14-Sep',col:0,row:3,shade:shade14,mjo:mjo14,kelvin:kelvin14,low:low14,er:er14},
 {day:'15-Sep',col:1,row:0,shade:shade15,mjo:mjo15,kelvin:kelvin15,low:low15,er:er15,tag:'CFS Forecast'},
 {day:'16-Sep',col:1,row:1,shade:shade16,mjo:mjo16,kelvin:kelvin16,low:low16,er:er16},
 {day:'17-Sep',col:1,row:2,shade:shade17,mjo:mjo17,kelvin:kelvin17,low:low17,er:er17},
 {day:'18-Sep',col:1,row:3,shade:shade18,mjo:mjo18,kelvin:kelvin18,low:low18,er:er18}
];

// ---- Axis functions ----
const NS = 'http://www.w3.org/2000/svg';
const PANEL_W = 634, PANEL_H = 141;
function panelLeft(col){ return 102 + col * 743; }
function panelTop(row){ return Math.round(46 + row * 233.35); }
function xOf(lon, col){ return panelLeft(col) + lon / 180 * PANEL_W; }
function yOf(lat, row){ return panelTop(row) + (20 - lat) / 40 * PANEL_H; }

function mk(tag, attrs, parent){
  const el = document.createElementNS(NS, tag);
  for (const k in attrs) el.setAttribute(k, attrs[k]);
  parent.appendChild(el);
  return el;
}
function toPts(flat, col, row){
  const p = [];
  for (let i = 0; i < flat.length; i += 2) p.push([xOf(flat[i], col), yOf(flat[i+1], row)]);
  return p;
}
function f(n){ return n.toFixed(1); }
function smoothPath(p, closed){
  const n = p.length;
  const at = closed ? i => p[(i + n) % n] : i => p[Math.max(0, Math.min(n - 1, i))];
  let d = 'M' + f(p[0][0]) + ' ' + f(p[0][1]);
  const last = closed ? n : n - 1;
  for (let i = 0; i < last; i++){
    const a = at(i-1), b = at(i), c = at(i+1), e = at(i+2);
    d += 'C' + f(b[0]+(c[0]-a[0])/6) + ' ' + f(b[1]+(c[1]-a[1])/6) + ' ' + f(c[0]-(e[0]-b[0])/6) + ' ' + f(c[1]-(e[1]-b[1])/6) + ' ' + f(c[0]) + ' ' + f(c[1]);
  }
  return d + (closed ? 'Z' : '');
}
function contourPath(flat, col, row){
  const closed = flat.length > 4 && flat[0] === flat[flat.length-2] && flat[1] === flat[flat.length-1];
  const pts = toPts(closed ? flat.slice(0, -2) : flat, col, row);
  return {d: smoothPath(pts, closed)};
}
function straightPath(flat, col, row){
  return toPts(flat, col, row).map((q, i) => (i ? 'L' : 'M') + f(q[0]) + ' ' + f(q[1])).join('');
}

// ---- Drawing ----
const root = document.getElementById('panels');

function drawContours(group, sets, color, width, col, row, name){
  sets.forEach(flat => {
    const el = mk('path', {d: contourPath(flat, col, row).d, fill:'none', stroke:color, 'stroke-width':width, 'stroke-linejoin':'round', 'stroke-linecap':'round'}, group);
    
    
  });
}

function drawPanel(pn, idx){
  const L = panelLeft(pn.col), T = panelTop(pn.row);
  const g = mk('g', {}, root);
  
  

  const cp = mk('clipPath', {id:'panelClip' + idx}, g);
  mk('rect', {x:L, y:T, width:PANEL_W, height:PANEL_H}, cp);

  const plot = mk('g', {'clip-path':'url(#panelClip' + idx + ')'}, g);
  const bg = mk('rect', {x:L, y:T, width:PANEL_W, height:PANEL_H, fill:levelColors[0]}, plot);
  
  

  pn.shade.forEach(item => {
    const el = mk('path', {d: smoothPath(toPts(item[1], pn.col, pn.row), true), fill: levelColors[item[0]]}, plot);
    
    
  });

  const coast = mk('g', {fill:'none', stroke:'#666', 'stroke-width':1.7, 'stroke-linejoin':'round', 'stroke-linecap':'round'}, plot);
  
  
  coastlines.forEach(c => mk('path', {d: straightPath(c, pn.col, pn.row)}, coast));

  drawContours(plot, pn.mjo, '#000000', 1.9, pn.col, pn.row, 'mjo-contour');
  drawContours(plot, pn.low, '#a020f0', 1.7, pn.col, pn.row, 'low-contour');
  drawContours(plot, pn.kelvin, '#0000ff', 1.8, pn.col, pn.row, 'kelvin-contour');
  drawContours(plot, pn.er, '#ff0000', 1.8, pn.col, pn.row, 'er-contour');

  const eq = mk('line', {x1:L, x2:L+PANEL_W, y1:yOf(0,pn.row), y2:yOf(0,pn.row), stroke:'#555', 'stroke-width':1.4, 'stroke-dasharray':'5.5 4'}, plot);
  
  

  if (pn.storms) stormLons.forEach((lon, i) => {
    const s = mk('g', {}, plot);
    
    
    const cx = xOf(lon, pn.col), cy = yOf(stormLats[i], pn.row);
    mk('path', {d:`M${cx+3} ${cy-9} C${cx-7} ${cy-5} ${cx-6} ${cy+3} ${cx-3} ${cy+9} C${cx+7} ${cy+5} ${cx+6} ${cy-3} ${cx+3} ${cy-9}Z`, fill:'#d80f0f', stroke:'#000', 'stroke-width':1.6}, s);
    const t = mk('text', {x:cx, y:cy+2.5, 'font-size':7, 'font-weight':'bold', fill:'#fff', 'text-anchor':'middle'}, s);
    t.textContent = stormLabels[i];
  });

  // frame and ticks
  const axes = mk('g', {stroke:'#000', fill:'none'}, g);
  
  
  xTickValues.forEach(v => {
    const x = xOf(v, pn.col);
    mk('line', {x1:x, x2:x, y1:T-6, y2:T, 'stroke-width':2.2}, axes);
    mk('line', {x1:x, x2:x, y1:T+PANEL_H, y2:T+PANEL_H+6, 'stroke-width':2.2}, axes);
  });
  xMinorTicks.forEach(v => {
    const x = xOf(v, pn.col);
    mk('line', {x1:x, x2:x, y1:T-3.5, y2:T, 'stroke-width':1.3}, axes);
    mk('line', {x1:x, x2:x, y1:T+PANEL_H, y2:T+PANEL_H+3.5, 'stroke-width':1.3}, axes);
  });
  yTickValues.forEach(v => {
    const y = yOf(v, pn.row);
    mk('line', {x1:L-6, x2:L, y1:y, y2:y, 'stroke-width':2.2}, axes);
    mk('line', {x1:L+PANEL_W, x2:L+PANEL_W+6, y1:y, y2:y, 'stroke-width':2.2}, axes);
  });
  yMinorTicks.forEach(v => {
    const y = yOf(v, pn.row);
    mk('line', {x1:L-3, x2:L, y1:y, y2:y, 'stroke-width':1.1}, axes);
    mk('line', {x1:L+PANEL_W, x2:L+PANEL_W+3, y1:y, y2:y, 'stroke-width':1.1}, axes);
  });
  mk('rect', {x:L, y:T, width:PANEL_W, height:PANEL_H, 'stroke-width':3}, axes);

  // labels
  const title = mk('text', {x:L-2, y:T-15, 'font-size':34.4, textLength:111, lengthAdjust:'spacingAndGlyphs'}, g);
  title.textContent = pn.day;
  
  

  if (pn.tag){
    const tg = mk('text', {x:L+PANEL_W, y:T-9, 'font-size':34.6, 'text-anchor':'end'}, g);
    tg.textContent = pn.tag;
    
    
  }
  if (pn.col === 0) yTickValues.forEach((v, i) => {
    const t = mk('text', {x:74, y:yOf(v, pn.row)+11.5, 'font-size':34.5, 'text-anchor':'end'}, g);
    t.textContent = yTickLabels[i];
    
    
  });
  if (pn.row === 3) xTickValues.forEach((v, i) => {
    const t = mk('text', {x:xOf(v, pn.col), y:941, 'font-size':34, 'text-anchor':'middle'}, g);
    t.textContent = xTickLabels[i];
    
    
  });
}
panels.forEach(drawPanel);

// ---- Colorbar ----
const cb = document.getElementById('colorbar');
const CB_X = 230, CB_W = 603, CB_Y = 1004, CB_H = 24;
const boxW = CB_W / cbarLevels.length;
cbarLevels.forEach((lv, i) => {
  const r = mk('rect', {x:CB_X+i*boxW, y:CB_Y, width:boxW, height:CB_H, fill:levelColors[lv], stroke:'#000', 'stroke-width':1.4}, cb);
  
  
});
cbarLabels.forEach((txt, i) => {
  const t = mk('text', {x:CB_X+(i+1)*boxW, y:1057, 'font-size':30, 'text-anchor':'middle'}, cb);
  t.textContent = txt;
  
  
});
</script>
</body>
</html>
